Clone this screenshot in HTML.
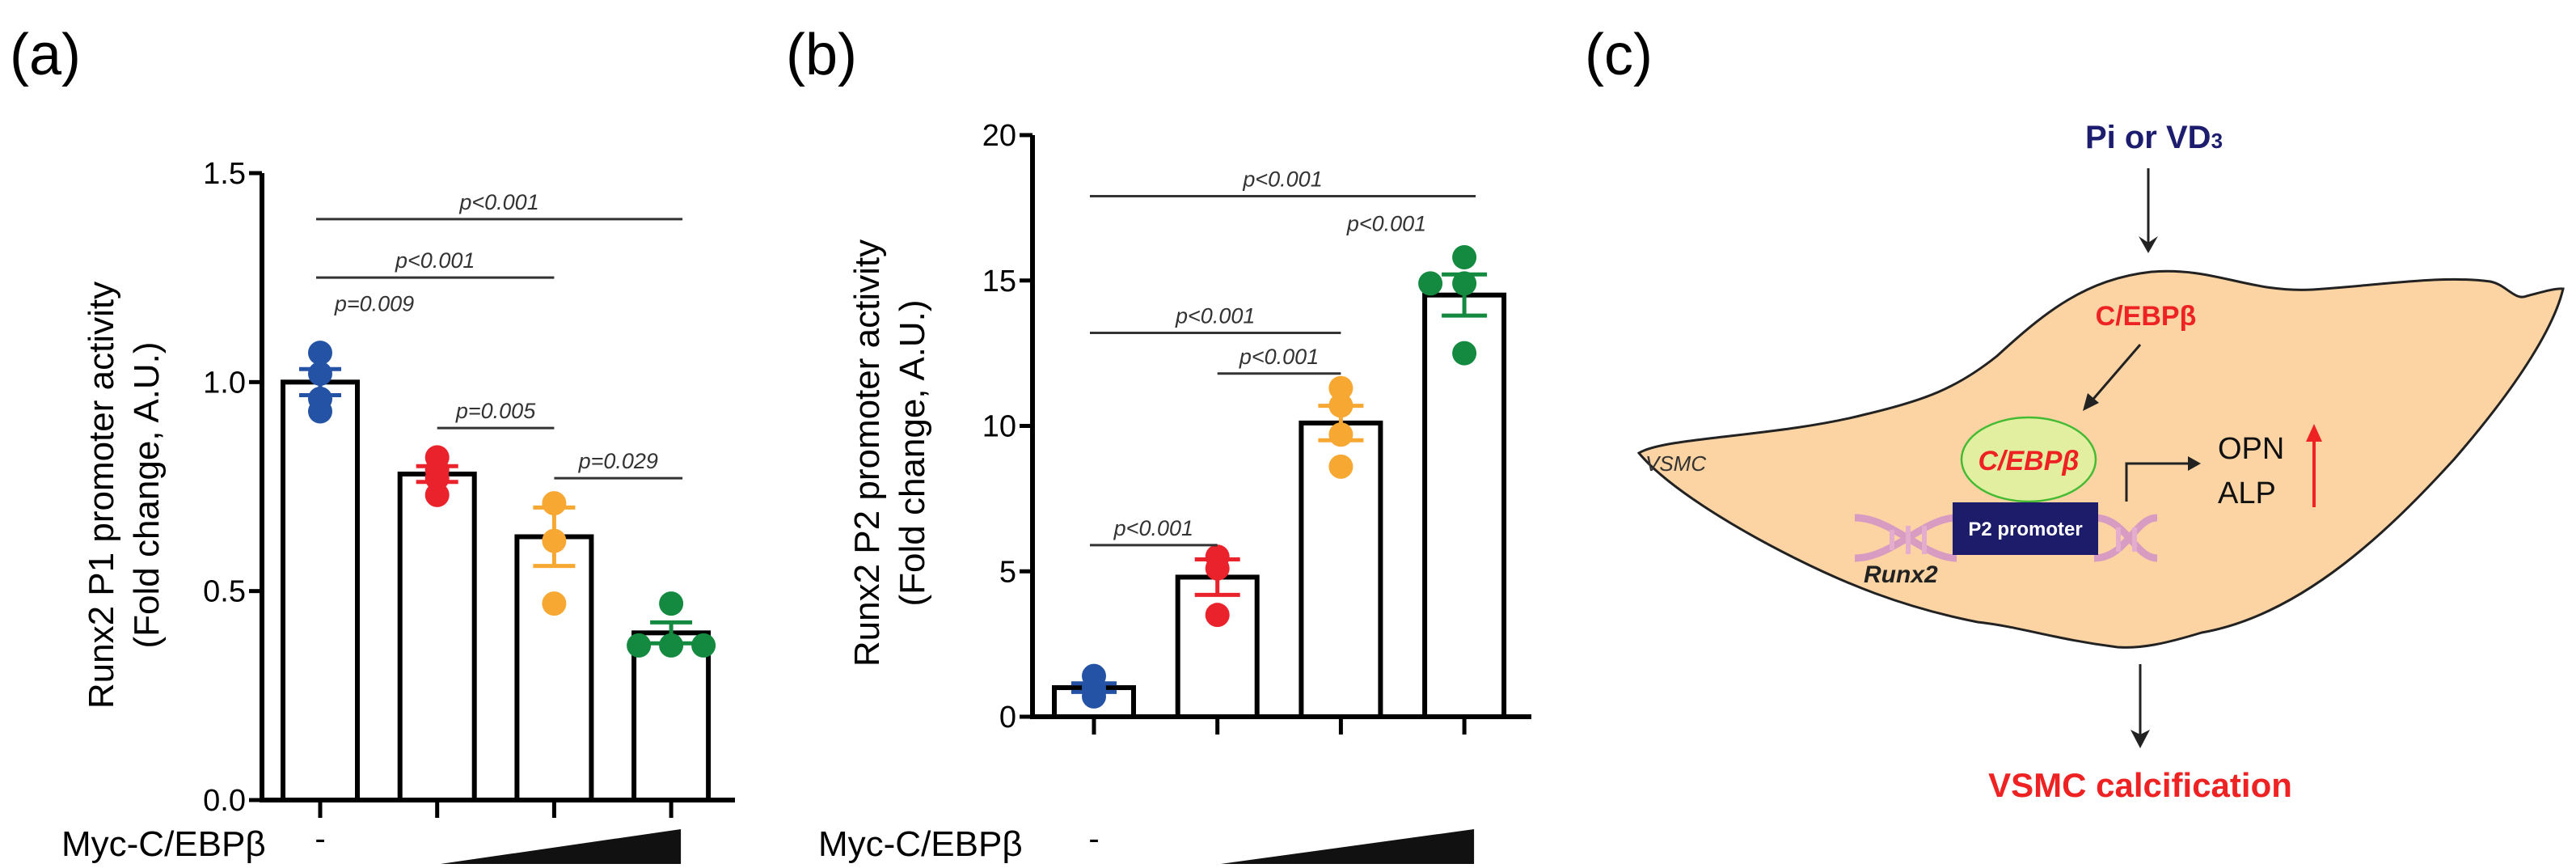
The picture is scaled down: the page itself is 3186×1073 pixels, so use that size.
<!DOCTYPE html>
<html><head><meta charset="utf-8"><style>
html,body{margin:0;padding:0;background:#fff;}
svg{display:block;font-family:"Liberation Sans",sans-serif;}
</style></head><body>
<svg id="fig" width="3186" height="1073" viewBox="0 0 3186 1073" xmlns="http://www.w3.org/2000/svg">
<g id="panelA"></g>
<g id="panelB"></g>
<g id="panelC">
  <text x="1960" y="92" font-size="72">(c)</text>
  <text x="2664" y="183" font-size="40" font-weight="bold" fill="#1d1d70" text-anchor="middle">Pi or VD<tspan font-size="26">3</tspan></text>
  <line x1="2657" y1="208" x2="2657" y2="306" stroke="#222" stroke-width="3"/>
  <polygon points="2645,292 2657,313 2669,292 2657,300" fill="#222"/>
  <path d="M2027,560 C2060,540 2200,540 2308,512 C2380,495 2420,480 2470,440 C2530,385 2580,345 2661,336 C2740,330 2780,362 2860,358 C2950,352 3020,340 3080,348 C3100,352 3110,372 3125,366 C3140,362 3160,356 3170,357 C3160,400 3120,470 3035,568 C2960,650 2850,760 2723,782 C2680,795 2650,802 2619,800 C2540,790 2500,775 2446,769 C2350,750 2280,720 2220,690 C2140,650 2060,600 2027,560 Z" fill="#fcd4a4" stroke="#222" stroke-width="3"/>
  <text x="2035" y="582" font-size="26" font-style="italic" fill="#333">VSMC</text>
  <text x="2654" y="402" font-size="34" font-weight="bold" fill="#ee2222" text-anchor="middle">C/EBPβ</text>
  <line x1="2647" y1="426" x2="2584" y2="499" stroke="#222" stroke-width="3"/>
  <polygon points="2576,508 2582,486 2596,498" fill="#222"/>
  <g opacity="0.75">
    <path d="M2294,640 C2340,640 2380,690 2420,690 M2294,690 C2340,690 2380,640 2420,640 M2590,640 C2630,640 2640,690 2668,690 M2590,690 C2630,690 2640,640 2668,640" stroke="#cc88cc" stroke-width="9" fill="none"/>
    <path d="M2340,655 v25 M2360,650 v35 M2380,650 v35 M2620,652 v30 M2640,652 v30" stroke="#dda0dd" stroke-width="6"/>
  </g>
  <ellipse cx="2509" cy="568" rx="83" ry="52" fill="#e3efa0" stroke="#44bb33" stroke-width="2.5"/>
  <text x="2509" y="581" font-size="34" font-weight="bold" font-style="italic" fill="#ee2222" text-anchor="middle">C/EBPβ</text>
  <rect x="2415" y="621" width="180" height="65" fill="#1c1c6b"/>
  <text x="2505" y="662" font-size="24" font-weight="bold" fill="#fff" text-anchor="middle">P2 promoter</text>
  <text x="2305" y="720" font-size="30" font-weight="bold" font-style="italic" fill="#222">Runx2</text>
  <polyline points="2630,620 2630,573 2712,573" fill="none" stroke="#222" stroke-width="3"/>
  <polygon points="2722,573 2706,564 2706,582" fill="#222"/>
  <text x="2743" y="567" font-size="38" fill="#111">OPN</text>
  <text x="2743" y="622" font-size="38" fill="#111">ALP</text>
  <line x1="2862" y1="627" x2="2862" y2="540" stroke="#ee2222" stroke-width="4"/>
  <polygon points="2852,546 2862,524 2872,546" fill="#ee2222"/>
  <line x1="2647" y1="821" x2="2647" y2="915" stroke="#222" stroke-width="3"/>
  <polygon points="2635,902 2647,925 2659,902 2647,908" fill="#222"/>
  <text x="2647" y="985" font-size="42" font-weight="bold" fill="#ee2222" text-anchor="middle">VSMC calcification</text>
</g>
</svg>
<script>
// ---- Panel (a) data ----
const aCategories = ["-", "low", "mid", "high"];
const aMeans = [1.0, 0.78, 0.63, 0.40];
const aPoints = [[1.07, 1.02, 0.96, 0.93],[0.82, 0.79, 0.77, 0.73],[0.71, 0.62, 0.47],[0.47, 0.37, 0.37, 0.37]];
const aTicks = [0.0, 0.5, 1.0, 1.5];
const aTickLabels = ["0.0", "0.5", "1.0", "1.5"];
const aSig = [["p<0.001",0,3,1.39],["p<0.001",0,2,1.25],["p=0.005",1,2,0.89],["p=0.029",2,3,0.77]];
// ---- Panel (b) data ----
const bCategories = ["-", "low", "mid", "high"];
const bMeans = [1.0, 4.8, 10.1, 14.5];
const bPoints = [[1.4, 0.7, 0.9, 1.0],[5.5, 5.1, 3.5],[11.3, 10.7, 9.7, 8.6],[15.8, 14.9, 14.9, 12.5]];
const bTicks = [0, 5, 10, 15, 20];
const bTickLabels = ["0", "5", "10", "15", "20"];
const bSig = [["p<0.001",0,3,17.9],["p<0.001",0,2,13.2],["p<0.001",1,2,11.8],["p<0.001",0,1,5.9]];

const colors = ["#2453a6","#e9222b","#f7a833","#138a3f"];
const NS = "http://www.w3.org/2000/svg";
function mk(parent, tag, attrs, text){
  const e = document.createElementNS(NS, tag);
  for (const k in attrs) e.setAttribute(k, attrs[k]);
  if (text !== undefined) e.textContent = text;
  parent.appendChild(e); return e;
}

function drawPanel(g, cfg){
  const y = v => cfg.y0 - (v - cfg.vmin) / (cfg.vmax - cfg.vmin) * (cfg.y0 - cfg.y1);
  const x = i => cfg.xc[0] + i * cfg.dx;
  const lab = mk(g,'text',{x:cfg.labX,y:92,'font-size':72}, cfg.label);
  
  
  const t1 = mk(g,'text',{x:0,y:0,'font-size':44,'text-anchor':'middle',transform:`translate(${cfg.tx1},${cfg.ty}) rotate(-90)`}, cfg.title1);
  
  
  const t2 = mk(g,'text',{x:0,y:0,'font-size':44,'text-anchor':'middle',transform:`translate(${cfg.tx2},${cfg.ty}) rotate(-90)`}, "(Fold change, A.U.)");
  
  
  cfg.means.forEach((m,i)=>{
    const r = mk(g,'rect',{x:x(i)-cfg.bw/2,y:y(m),width:cfg.bw,height:y(cfg.vmin)-y(m),fill:'#fff',stroke:'#000','stroke-width':6});
    
    
  });
  cfg.points.forEach((pts,i)=>{
    const n = pts.length;
    const mean = pts.reduce((a,b)=>a+b,0)/n;
    const sd = Math.sqrt(pts.reduce((a,b)=>a+(b-mean)*(b-mean),0)/(n-1));
    const sem = sd/Math.sqrt(n);
    const seen = {};
    pts.forEach((v,j)=>{
      const key = v.toFixed(2);
      seen[key] = (seen[key]||0)+1;
      const k = seen[key]-1;
      const off = k===0?0:(k%2===1?-cfg.jit:cfg.jit);
      const c = mk(g,'circle',{cx:x(i)+off,cy:y(v),r:cfg.pr,fill:colors[i]});
      
      
    });
    const m = cfg.means[i];
    const eb = mk(g,'path',{d:`M${x(i)},${y(m+sem)}V${y(m-sem)}M${x(i)-cfg.cap},${y(m+sem)}H${x(i)+cfg.cap}M${x(i)-cfg.cap},${y(m-sem)}H${x(i)+cfg.cap}`,stroke:colors[i],'stroke-width':5,fill:'none'});
    
    
  });
  const ax = mk(g,'path',{d:`M${cfg.ax},${y(cfg.vmax)}V${y(cfg.vmin)}H${cfg.axEnd}`,stroke:'#000','stroke-width':6,fill:'none'});
  
  
  cfg.ticks.forEach((v,k)=>{
    const tk = mk(g,'line',{x1:cfg.ax-16,x2:cfg.ax,y1:y(v),y2:y(v),stroke:'#000','stroke-width':5});
    
    
    const tl = mk(g,'text',{x:cfg.ax-20,y:y(v)+13,'font-size':38,'text-anchor':'end'}, cfg.tickLabels[k]);
    
    
  });
  cfg.means.forEach((m,i)=>{
    const tk = mk(g,'line',{x1:x(i),x2:x(i),y1:y(cfg.vmin),y2:y(cfg.vmin)+22,stroke:'#000','stroke-width':5});
    
    
  });
  cfg.sig.forEach(s=>{
    const x1 = x(s[1]) - (s[1]===0?5:0), x2 = x(s[2]) + (s[2]===3?14:0);
    const ln = mk(g,'line',{x1:x1,x2:x2,y1:y(s[3]),y2:y(s[3]),stroke:'#333','stroke-width':3});
    
    
    const tx = mk(g,'text',{x:(x1+x2)/2,y:y(s[3])-12,'font-size':27,'font-style':'italic','text-anchor':'middle',fill:'#333'}, s[0]);
    
    
  });
  cfg.extraSig.forEach(s=>{
    const tx = mk(g,'text',{x:s[1],y:y(s[2]),'font-size':27,'font-style':'italic','text-anchor':'middle',fill:'#333'}, s[0]);
    
    
  });
  const my = mk(g,'text',{x:cfg.mycX,y:1058,'font-size':44}, "Myc-C/EBPβ");
  
  
  const dash = mk(g,'text',{x:x(0),y:1050,'font-size':40,'text-anchor':'middle'}, "-");
  
  
  const w = mk(g,'polygon',{points:`${x(1)+4},1068 ${x(3)+12},1025 ${x(3)+12},1068`,fill:'#111'});
  
  
}

drawPanel(document.getElementById('panelA'), {
  label:"(a)", labX:12, title1:"Runx2 P1 promoter activity", tx1:140, tx2:196, ty:612,
  vmin:0, vmax:1.5, y0:989, y1:214, xc:[396], dx:144.7, bw:92, ax:324, axEnd:909,
  means:aMeans, points:aPoints, ticks:aTicks, tickLabels:aTickLabels, sig:aSig,
  extraSig:[["p=0.009",463,1.17]], pr:15, jit:40, cap:26, mycX:76
});
drawPanel(document.getElementById('panelB'), {
  label:"(b)", labX:972, title1:"Runx2 P2 promoter activity", tx1:1087, tx2:1143, ty:560,
  vmin:0, vmax:20, y0:886, y1:167, xc:[1353], dx:152.7, bw:98, ax:1277, axEnd:1894,
  means:bMeans, points:bPoints, ticks:bTicks, tickLabels:bTickLabels, sig:bSig,
  extraSig:[["p<0.001",1715,16.7]], pr:15, jit:42, cap:28, mycX:1012
});
</script>
</body></html>
